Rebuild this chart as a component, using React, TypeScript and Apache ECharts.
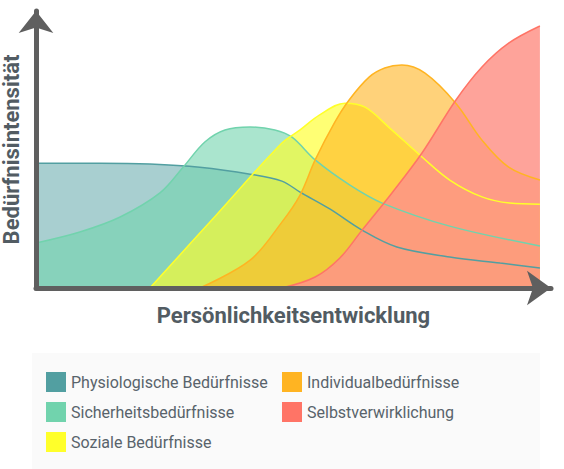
import { useEffect, useRef } from "react";
import * as echarts from "echarts";

// x: development (0..100 = data range), y: intensity
const physioData = [
  [0, 46.6], [12.7, 46.6], [22.6, 46.3], [32.5, 45.1], [42.5, 42.5],
  [48.8, 39.9], [52.4, 35.8], [58.3, 29.5], [64.7, 21.6], [71.6, 15.3],
  [82.1, 11.6], [92.1, 9.3], [100, 7.5],
];
const safetyData = [
  [0, 16.8], [8.7, 20.9], [16.7, 26.5], [24.6, 35.5], [29.2, 45.1],
  [33.5, 54.5], [37.5, 59.0], [42.5, 60.1], [47.4, 59.0], [50.8, 56.3],
  [55.4, 47.8], [62.3, 38.4], [68.7, 31.7], [82.1, 23.1], [100, 15.7],
];
const socialData = [
  [22.6, 0], [35.7, 27.1], [48.8, 54.1], [52.4, 59.0], [56.3, 64.6],
  [61.3, 69.0], [65.3, 67.5], [70.2, 59.7], [76.6, 48.9], [82.1, 40.3],
  [88.5, 34.0], [94.0, 31.7], [100, 31.3],
];
const individualData = [
  [32.5, 0], [42.5, 10.4], [48.8, 24.6], [52.4, 34.7], [55.4, 47.8],
  [59.3, 61.9], [62.1, 70.1], [66.1, 78.7], [69.2, 82.1], [72.6, 83.2],
  [77.2, 80.2], [83.3, 69.0], [88.5, 55.2], [93.8, 45.1], [100, 40.3],
];
const selfData = [
  [48.8, 0], [55.4, 4.1], [60.3, 11.2], [64.7, 21.6], [70.6, 35.4],
  [76.6, 50.4], [83.3, 70.1], [88.5, 82.5], [93.8, 91.4], [100, 97.8],
];

const seriesNames = [
  "Physiologische Bedürfnisse",
  "Sicherheitsbedürfnisse",
  "Soziale Bedürfnisse",
  "Individualbedürfnisse",
  "Selbstverwirklichung",
];
const seriesColors = ["#529fa1", "#71d3ad", "#ffff2a", "#ffb422", "#ff7466"];
const areaColors = [
  "rgba(82,159,161,0.5)",
  "rgba(113,211,173,0.6)",
  "rgba(255,255,42,0.65)",
  "rgba(255,180,34,0.6)",
  "rgba(254,147,136,0.85)",
];
const seriesData = [physioData, safetyData, socialData, individualData, selfData];

const axisColor = "#5f5f5f";
const nameColor = "#525c63";

export default function App() {
  const divRef = useRef<HTMLDivElement>(null);

  useEffect(() => {
    if (!divRef.current) return;
    const chart = echarts.init(divRef.current, null, { renderer: "svg" });

    const legendText = {
      fontFamily: "Roboto",
      fontSize: 16,
      color: "#58636b",
    };

    // areas first, then all outlines on top of them
    const areaSeries = seriesNames.map((name, i) => ({
      name,
      type: "line",
      data: seriesData[i],
      smooth: 0.35,
      showSymbol: false,
      color: seriesColors[i],
      z: 2,
      lineStyle: { width: 0, color: seriesColors[i] },
      areaStyle: { color: areaColors[i], opacity: 1 },
    }));
    const lineSeries = seriesNames.map((name, i) => ({
      name,
      type: "line",
      data: seriesData[i],
      smooth: 0.35,
      showSymbol: false,
      color: seriesColors[i],
      z: 3,
      lineStyle: { width: 1.5, color: seriesColors[i] },
    }));

    const option = {
      animation: false,
      grid: { left: 36, right: 13, top: 11, bottom: 181, outerBoundsMode: "none" },
      graphic: [
        {
          type: "rect",
          left: 32,
          top: 353,
          shape: { width: 508, height: 120 },
          style: { fill: "#fafafa" },
          z: -10,
        },
      ],
      legend: [
        {
          data: seriesNames.slice(0, 3),
          orient: "vertical",
          left: 46,
          top: 372,
          padding: 0,
          itemWidth: 20,
          itemHeight: 20,
          itemGap: 10,
          icon: "rect",
          itemStyle: { opacity: 1 },
          textStyle: legendText,
        },
        {
          data: seriesNames.slice(3),
          orient: "vertical",
          left: 282,
          top: 372,
          padding: 0,
          itemWidth: 20,
          itemHeight: 20,
          itemGap: 10,
          icon: "rect",
          itemStyle: { opacity: 1 },
          textStyle: legendText,
        },
      ],
      xAxis: {
        type: "value",
        min: 0,
        max: 102.2,
        offset: 2.5,
        z: 5,
        name: "Persönlichkeitsentwicklung",
        nameLocation: "middle",
        nameGap: 14,
        nameTextStyle: {
          fontFamily: "Roboto",
          fontWeight: "bold",
          fontSize: 22,
          color: nameColor,
          verticalAlign: "top",
        },
        axisLine: {
          lineStyle: { color: axisColor, width: 5 },
          symbol: ["none", "arrow"],
          symbolSize: [26, 24],
        },
        axisTick: { show: false },
        axisLabel: { show: false },
        splitLine: { show: false },
      },
      yAxis: {
        type: "value",
        min: 0,
        max: 103.4,
        offset: 2.5,
        z: 5,
        name: "Bedürfnisintensität",
        nameLocation: "middle",
        nameGap: 11,
        nameTextStyle: {
          fontFamily: "Roboto",
          fontWeight: "bold",
          fontSize: 22,
          color: nameColor,
        },
        axisLine: {
          lineStyle: { color: axisColor, width: 5 },
          symbol: ["none", "arrow"],
          symbolSize: [26, 22],
        },
        axisTick: { show: false },
        axisLabel: { show: false },
        splitLine: { show: false },
      },
      series: [...areaSeries, ...lineSeries],
    };

    chart.setOption(option);

    return () => {
      chart.dispose();
    };
  }, []);

  return (
    <div
      ref={divRef}
      style={{ position: "absolute", left: 0, top: 0, width: 564, height: 469 }}
    />
  );
}
